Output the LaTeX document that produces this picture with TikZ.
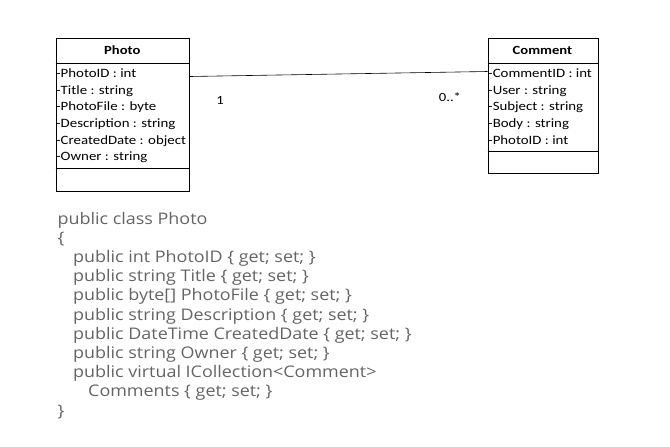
\documentclass[tikz,border=0pt]{standalone}
\usepackage{fontspec}
\newfontfamily\boxfont[FakeStretch=1.17]{Carlito}
\newfontfamily\codefont[FakeStretch=1.12]{Open Sans}
\definecolor{codegray}{RGB}{100,100,100}
\begin{document}
\begin{tikzpicture}[x=1pt,y=-1pt,
  umlbox/.style={draw, line width=0.8pt, inner sep=0pt, anchor=north west},
  attr/.style={anchor=base west, inner sep=0pt, font=\boxfont\fontsize{12.7}{14}\selectfont},
  title/.style={anchor=base, inner sep=0pt, font=\boxfont\bfseries\fontsize{12.5}{14}\selectfont},
  mult/.style={anchor=base, inner sep=0pt, font=\boxfont\fontsize{12.5}{14}\selectfont},
  code/.style={anchor=base west, inner sep=0pt, text=codegray, font=\codefont\fontsize{16}{19}\selectfont},
  divider/.style={line width=0.8pt}]
\useasboundingbox (0,0) rectangle (670,447);
% Photo class
\node[umlbox, minimum width=133.5pt, minimum height=152.2pt] (photo) at (55.5,38.3) {};
\draw[divider] (photo.west |- 0,63.3) -- (photo.east |- 0,63.3);
\draw[divider] (photo.west |- 0,168) -- (photo.east |- 0,168);
\node[title] (phototitle) at (122.3,54.7) {Photo};
\node[attr] (pa1) at (56,77.3) {-PhotoID : int};
\node[attr] (pa2) at (56,94) {-Title : string};
\node[attr] (pa3) at (56,110.7) {-PhotoFile : byte};
\node[attr] (pa4) at (56,127.4) {-Description : string};
\node[attr] (pa5) at (56,144.1) {-CreatedDate : object};
\node[attr] (pa6) at (56,160.8) {-Owner : string};
% Comment class
\node[umlbox, minimum width=110pt, minimum height=134.7pt] (comment) at (487.5,38.3) {};
\draw[divider] (comment.west |- 0,63.3) -- (comment.east |- 0,63.3);
\draw[divider] (comment.west |- 0,151.7) -- (comment.east |- 0,151.7);
\node[title] (commenttitle) at (542.5,54.7) {Comment};
\node[attr] (ca1) at (488,77.3) {-CommentID : int};
\node[attr] (ca2) at (488,94) {-User : string};
\node[attr] (ca3) at (488,110.7) {-Subject : string};
\node[attr] (ca4) at (488,127.4) {-Body : string};
\node[attr] (ca5) at (488,144.1) {-PhotoID : int};
% association
\draw[line width=0.6pt] (photo.east |- 0,76.5) -- (comment.west |- 0,71.5);
\node[mult] (one) at (220,104.5) {1};
\node[mult] (many) at (450,101.5) {0..*};
% code
\node[code] (c1) at (57.5,224) {public class Photo};
\node[code] (c2) at (57.5,243.2) {\{};
\node[code] (c3) at (73,262.4) {public int PhotoID \{ get; set; \}};
\node[code] (c4) at (73,281.6) {public string Title \{ get; set; \}};
\node[code] (c5) at (73,300.8) {public byte[] PhotoFile \{ get; set; \}};
\node[code] (c6) at (73,320) {public string Description \{ get; set; \}};
\node[code] (c7) at (73,339.2) {public DateTime CreatedDate \{ get; set; \}};
\node[code] (c8) at (73,358.4) {public string Owner \{ get; set; \}};
\node[code] (c9) at (73,377.6) {public virtual ICollection<Comment>};
\node[code] (c10) at (88,396.8) {Comments \{ get; set; \}};
\node[code] (c11) at (57.5,416) {\}};
\end{tikzpicture}
\end{document}
